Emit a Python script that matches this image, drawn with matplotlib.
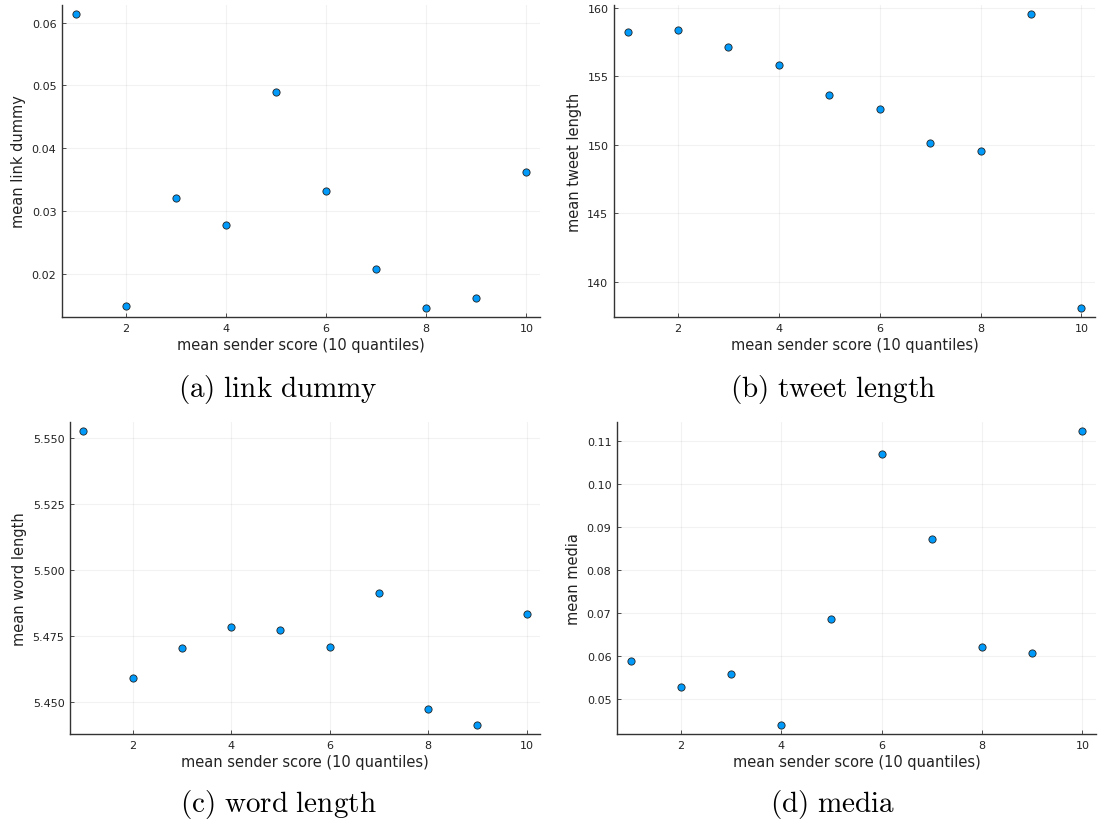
import matplotlib
matplotlib.use("Agg")
import matplotlib.pyplot as plt
from matplotlib.ticker import FormatStrFormatter, MultipleLocator

plt.rcParams['mathtext.fontset'] = 'cm'

quantiles = list(range(1, 11))
link_dummy = [0.0614, 0.0148, 0.0320, 0.0277, 0.0490, 0.0332, 0.0208, 0.0145, 0.0162, 0.0362]
tweet_length = [158.2, 158.4, 157.1, 155.85, 153.6, 152.6, 150.15, 149.55, 159.55, 138.1]
word_length = [5.5529, 5.4592, 5.4707, 5.4786, 5.4775, 5.4710, 5.4915, 5.4474, 5.4413, 5.4833]
media = [0.0588, 0.0526, 0.0558, 0.0438, 0.0684, 0.1069, 0.0871, 0.0620, 0.0605, 0.1123]

ylabels = ["mean link dummy", "mean tweet length", "mean word length", "mean media"]
captions = [r"$\mathrm{(a)\ link\ dummy}$", r"$\mathrm{(b)\ tweet\ length}$",
            r"$\mathrm{(c)\ word\ length}$", r"$\mathrm{(d)\ media}$"]
xlabel = "mean sender score (10 quantiles)"

W, H = 1099, 828
fig = plt.figure(figsize=(W / 100, H / 100), dpi=100)

# axes boxes in pixels: left, right, top, bottom
boxes = [(62, 540, 6, 318), (614, 1095, 6, 318),
         (70, 540, 423, 735), (617, 1096, 423, 735)]
steps = [0.01, 5, 0.025, 0.01]
fmts = ["%.2f", "%d", "%.3f", "%.2f"]
series = [link_dummy, tweet_length, word_length, media]
cap_pos = [(278, 390), (833, 390), (278, 805), (833, 805)]

for i in range(4):
    l, r, t, b = boxes[i]
    ax = fig.add_axes([l / W, 1 - b / H, (r - l) / W, (b - t) / H])
    y = series[i]
    ax.plot(quantiles, y, 'o', color='#009AFA', markeredgecolor='#222222',
            markeredgewidth=0.6, markersize=5.2)
    lo, hi = min(y), max(y)
    pad = (hi - lo) * 0.03
    ax.set_ylim(lo - pad, hi + pad)
    ax.set_xlim(1 - 9 * 0.03, 10 + 9 * 0.03)
    ax.xaxis.set_major_locator(MultipleLocator(2))
    ax.yaxis.set_major_locator(MultipleLocator(steps[i]))
    ax.yaxis.set_major_formatter(FormatStrFormatter(fmts[i]))
    ax.grid(True, color='black', alpha=0.05, linewidth=0.8)
    for s in ['top', 'right']:
        ax.spines[s].set_visible(False)
    for s in ['left', 'bottom']:
        ax.spines[s].set_linewidth(1.0)
        ax.spines[s].set_color('#333333')
    ax.tick_params(direction='in', length=3, width=0.6, labelsize=8,
                   colors='#333333', labelcolor='#222222', pad=4)
    ax.set_xlabel(xlabel, fontsize=10.5, color='#222222', labelpad=3)
    ax.set_ylabel(ylabels[i], fontsize=10.5, color='#222222', labelpad=4)
    cx, cy = cap_pos[i]
    fig.text(cx / W, 1 - cy / H, captions[i], ha='center', va='center', fontsize=21)

fig.savefig("out.png", dpi=100)
